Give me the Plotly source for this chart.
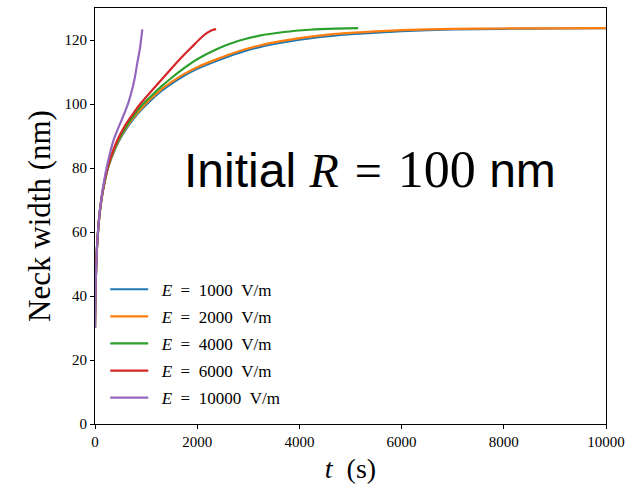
import plotly.graph_objects as go

# ---------------- data ----------------
labels = ["\u2002<i>E</i>\u2002=\u20021000\u2002V/m", "\u2002<i>E</i>\u2002=\u20022000\u2002V/m",
          "\u2002<i>E</i>\u2002=\u20024000\u2002V/m", "\u2002<i>E</i>\u2002=\u20026000\u2002V/m",
          "\u2002<i>E</i>\u2002=\u200210000\u2002V/m"]
colors = ["#1f77b4", "#ff7f0e", "#2ca02c", "#d62728", "#9467bd"]

t_1000 = [0, 5, 12, 25, 40, 70, 104, 157, 254, 350, 463, 600, 750, 900, 1100, 1300, 1500,
          1750, 2000, 2400, 2800, 3200, 3700, 4300, 5000, 6000, 7000, 8000, 9000, 10000]
w_1000 = [30, 37, 43, 50, 55.5, 62.5, 67.5, 73, 80, 84.3, 88.3, 92, 95.3, 98.1, 101.3, 104.1, 106.4,
          108.9, 111, 113.6, 115.9, 117.7, 119.3, 120.7, 121.8, 122.8, 123.3, 123.5, 123.6, 123.7]

t_2000 = [0, 5, 12, 25, 40, 70, 104, 157, 254, 350, 463, 600, 750, 900, 1100, 1300, 1500,
          1750, 2000, 2400, 2800, 3200, 3700, 4300, 5000, 6000, 7000, 8000, 9000, 10000]
w_2000 = [30, 37, 43, 50, 55.5, 62.5, 67.5, 73, 80.1, 84.5, 88.6, 92.35, 95.7, 98.55, 101.8, 104.6, 106.9,
          109.4, 111.5, 114.1, 116.4, 118.2, 119.8, 121.2, 122.2, 123.1, 123.5, 123.6, 123.65, 123.7]

t_4000 = [0, 5, 12, 25, 40, 70, 104, 157, 254, 350, 463, 600, 750, 900, 1100, 1300, 1500,
          1750, 2000, 2400, 2800, 3200, 3700, 4200, 4700, 5150]
w_4000 = [30, 37, 43, 50, 55.5, 62.5, 67.6, 73.2, 80.3, 84.8, 88.9, 92.7, 96.2, 99.3, 102.5, 105.5, 108.2,
          111.3, 114, 117.3, 119.7, 121.3, 122.5, 123.2, 123.55, 123.7]

t_6000 = [0, 5, 12, 25, 40, 70, 104, 157, 254, 350, 463, 600, 750, 900, 1100, 1300, 1500,
          1700, 1900, 2050, 2200, 2300, 2370]
w_6000 = [30, 37, 43, 50, 55.5, 62.5, 67.7, 73.4, 80.6, 85.3, 89.6, 93.6, 97.1, 100.3, 104, 107.6, 111.2,
          114.7, 117.9, 120.3, 122.3, 123.1, 123.4]

t_10000 = [0, 5, 12, 25, 40, 70, 104, 157, 254, 365, 450, 555, 650, 724, 780, 830, 880, 926]
w_10000 = [30, 37, 43, 50, 55.5, 62.5, 68, 74, 82, 88.8, 92.3, 96.3, 100.3, 104.4, 108.3, 113, 117.4, 123.3]

series_t = [t_1000, t_2000, t_4000, t_6000, t_10000]
series_w = [w_1000, w_2000, w_4000, w_6000, w_10000]

x_ticks = [0, 2000, 4000, 6000, 8000, 10000]
y_ticks = [0, 20, 40, 60, 80, 100, 120]

SERIF = "Liberation Serif, DejaVu Serif, serif"
SANS = "Liberation Sans, Arial, sans-serif"

fig = go.Figure()
for i in range(5):
    fig.add_trace(go.Scatter(
        x=series_t[i], y=series_w[i], mode="lines", name=labels[i],
        line=dict(color=colors[i], width=2.2, shape="spline", smoothing=0.5),
        legendgroup=str(i),
    ))

fig.add_annotation(
    x=5382, y=79.5, xref="x", yref="y", showarrow=False,
    text=("Initial <span style=\"font-family:'Liberation Serif'\"><i>R</i>\u2004=\u2004"
          "<span style=\"font-size:52px\">100</span></span> nm"),
    font=dict(family=SANS, size=48, color="black"),
)

axis_common = dict(
    showgrid=False, zeroline=False, showline=True, linecolor="black", linewidth=1.2,
    mirror=True, ticks="outside", ticklen=4, tickwidth=1, tickcolor="black",
    tickfont=dict(family=SERIF, size=15, color="black"),
)

fig.update_layout(
    width=632, height=487,
    margin=dict(l=95, r=26, t=8, b=63),
    paper_bgcolor="white", plot_bgcolor="white",
    xaxis=dict(range=[0, 10000], tickvals=x_ticks, ticktext=[str(v) for v in x_ticks],
               title=dict(text="<i>t</i>\u2002(s)", font=dict(family=SERIF, size=28, color="black"),
                          standoff=9),
               **axis_common),
    yaxis=dict(range=[0, 130], tickvals=y_ticks, ticktext=[str(v) for v in y_ticks],
               title=dict(text="Neck width (nm)", font=dict(family=SERIF, size=31, color="black"),
                          standoff=4),
               **axis_common),
    legend=dict(x=0.02, y=0.02, xanchor="left", yanchor="bottom",
                font=dict(family=SERIF, size=17, color="black"),
                bgcolor="rgba(255,255,255,0)", borderwidth=0,
                tracegroupgap=2, itemwidth=38),
    showlegend=True,
)

fig.write_html("out.html")
